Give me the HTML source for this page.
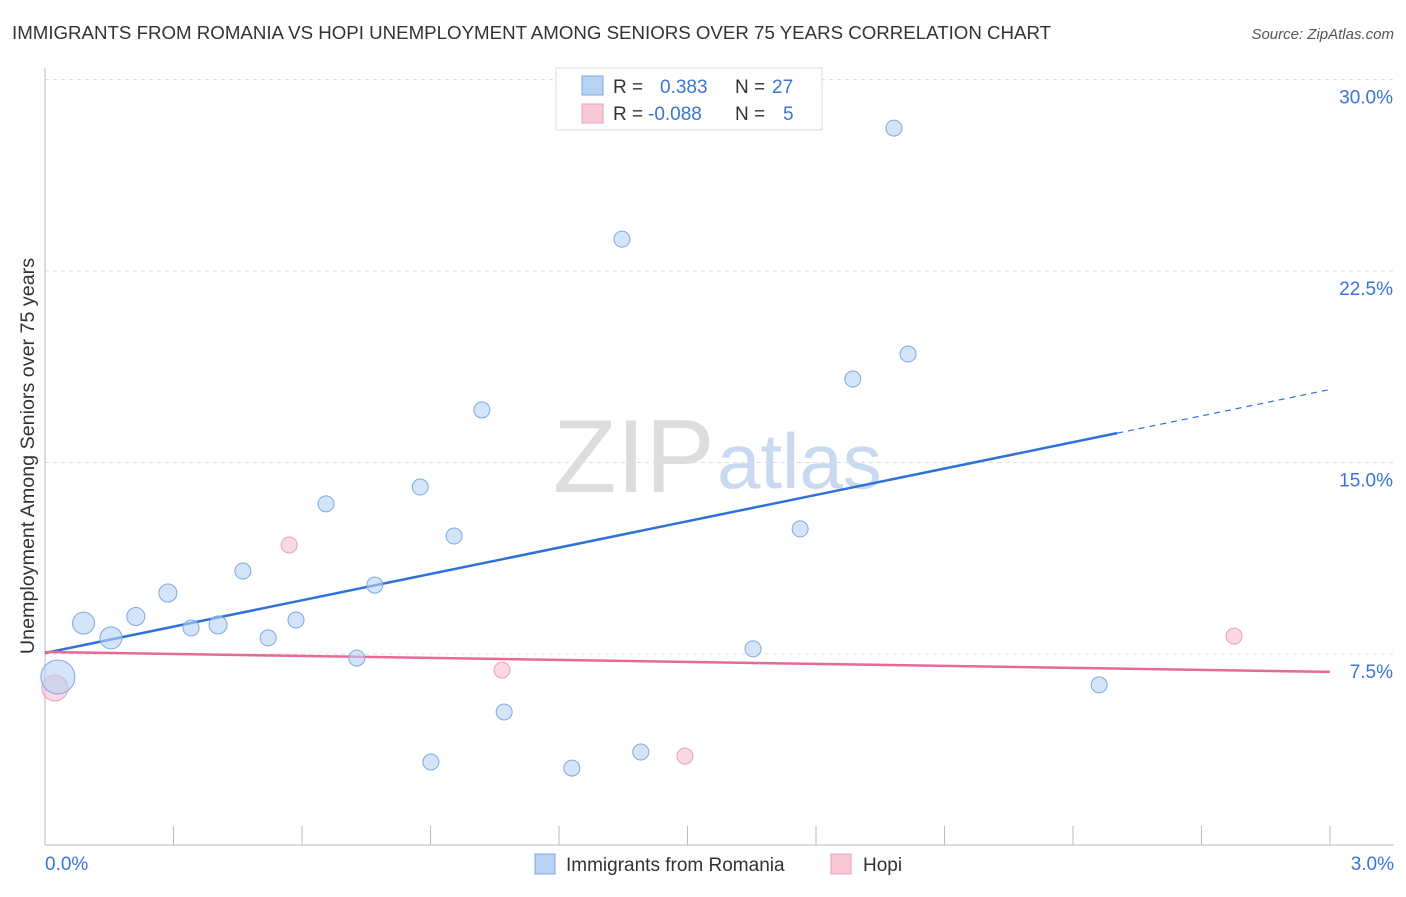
<!DOCTYPE html>
<html><head><meta charset="utf-8"><style>
body{margin:0;background:#fff;font-family:"Liberation Sans",sans-serif;}
svg text{font-family:"Liberation Sans",sans-serif;}
</style></head><body>
<svg id="chart" width="1406" height="892" xmlns="http://www.w3.org/2000/svg">
<text x="12" y="39" font-size="18.7" fill="#333">IMMIGRANTS FROM ROMANIA VS HOPI UNEMPLOYMENT AMONG SENIORS OVER 75 YEARS CORRELATION CHART</text>
<text x="1394" y="39" font-size="15" fill="#555" font-style="italic" text-anchor="end">Source: ZipAtlas.com</text>
<text x="34" y="456" font-size="19.7" fill="#333" text-anchor="middle" transform="rotate(-90 34 456)">Unemployment Among Seniors over 75 years</text>
<text x="553" y="492" font-size="104" fill="#ddd" font-family="Liberation Serif">ZIP</text>
<text x="717" y="488" font-size="78" fill="#c9d9f0">atlas</text>
<g id="grid"></g><g id="axes"></g><g id="trend"></g><g id="points"></g>
<g>
<rect x="556" y="68" width="266" height="62" fill="#fff" stroke="#ddd"/>
<rect x="582" y="76" width="21" height="19" fill="#b8d2f5" stroke="#7fa9e0"/>
<rect x="582" y="104" width="21" height="19" fill="#f9c9d6" stroke="#eaa0b6"/>
<text x="613" y="93" font-size="19" fill="#333">R = <tspan fill="#3a75d4" x="660">0.383</tspan><tspan fill="#333" x="735">N = </tspan><tspan fill="#3a75d4" x="772">27</tspan></text>
<text x="613" y="120" font-size="19" fill="#333">R = <tspan fill="#3a75d4" x="648">-0.088</tspan><tspan fill="#333" x="735">N = </tspan><tspan fill="#3a75d4" x="783">5</tspan></text>
</g>
<g>
<rect x="535" y="854" width="20" height="20" fill="#b8d2f5" stroke="#7fa9e0"/>
<text x="566" y="871" font-size="19" fill="#333">Immigrants from Romania</text>
<rect x="831" y="854" width="20" height="20" fill="#f9c9d6" stroke="#eaa0b6"/>
<text x="863" y="871" font-size="19" fill="#333">Hopi</text>
</g>
<text x="45" y="870" font-size="19" fill="#3a75d4">0.0%</text>
<text x="1394" y="870" font-size="19" fill="#3a75d4" text-anchor="end">3.0%</text>
</svg>
<script>
const blueX=[0.03,0.09,0.154,0.212,0.287,0.341,0.404,0.462,0.521,0.586,0.656,0.728,0.770,0.876,0.901,0.955,1.020,1.072,1.230,1.347,1.391,1.653,1.763,1.886,1.982,2.015,2.461];
const blueY=[6.6,8.71,8.13,8.97,9.89,8.52,8.64,10.75,8.13,8.83,13.38,7.34,10.2,14.04,3.27,12.12,17.06,5.23,3.03,23.75,3.66,7.70,12.40,18.27,28.1,19.25,6.29];
const blueR=[17,11,11,9,9,8,9,8,8,8,8,8,8,8,8,8,8,8,8,8,8,8,8,8,8,8,8];
const pinkX=[0.023,0.570,1.067,1.494,2.776];
const pinkY=[6.17,11.77,6.87,3.50,8.2];
const pinkR=[13,8,8,8,8];
const yTicks=[7.5,15,22.5,30];
const yTickLabels=["7.5%","15.0%","22.5%","30.0%"];
const xTicks=[0,0.3,0.6,0.9,1.2,1.5,1.8,2.1,2.4,2.7,3.0];
const blueTrend=[7.54,3.44];
const pinkTrend=[7.58,-0.26];
const X=v=>45+v*428.33, Y=v=>654-(v-7.5)*25.53;
const NS="http://www.w3.org/2000/svg";
function mk(t,a,p){const e=document.createElementNS(NS,t);for(const k in a)e.setAttribute(k,a[k]);document.getElementById(p).appendChild(e);return e;}
yTicks.forEach((v,i)=>{
 const l=mk('line',{x1:45,x2:1394,y1:Y(v),y2:Y(v),stroke:'#ddd','stroke-dasharray':'4 4'},'grid');
 
 
 const t=mk('text',{x:1393,y:Y(v)+24,'font-size':19,fill:'#3a75d4','text-anchor':'end'},'grid');
 t.textContent=yTickLabels[i];
 
 
});
let a=mk('line',{x1:45,x2:45,y1:68,y2:845,stroke:'#bbb'},'axes');


a=mk('line',{x1:45,x2:1394,y1:845,y2:845,stroke:'#bbb'},'axes');


xTicks.forEach(v=>{
 const t=mk('line',{x1:X(v),x2:X(v),y1:826,y2:845,stroke:'#bbb'},'axes');
 
 
});
const bx2=2.503;
let tl=mk('line',{x1:X(0),y1:Y(blueTrend[0]),x2:X(bx2),y2:Y(blueTrend[0]+blueTrend[1]*bx2),stroke:'#2f72d6','stroke-width':2.5},'trend');


tl=mk('line',{x1:X(bx2),y1:Y(blueTrend[0]+blueTrend[1]*bx2),x2:X(3),y2:Y(blueTrend[0]+blueTrend[1]*3),stroke:'#2f72d6','stroke-width':1.2,'stroke-dasharray':'6 5'},'trend');


tl=mk('line',{x1:X(0),y1:Y(pinkTrend[0]),x2:X(3),y2:Y(pinkTrend[0]+pinkTrend[1]*3),stroke:'#e8689a','stroke-width':2.5},'trend');


pinkX.forEach((v,i)=>{
 const c=mk('circle',{cx:X(v),cy:Y(pinkY[i]),r:pinkR[i],fill:'rgba(249,190,208,0.6)',stroke:'#eaa0b6'},'points');
 
 
});
blueX.forEach((v,i)=>{
 const c=mk('circle',{cx:X(v),cy:Y(blueY[i]),r:blueR[i],fill:'rgba(184,210,245,0.6)',stroke:'#7fa9e0'},'points');
 
 
});
</script>
</body></html>
